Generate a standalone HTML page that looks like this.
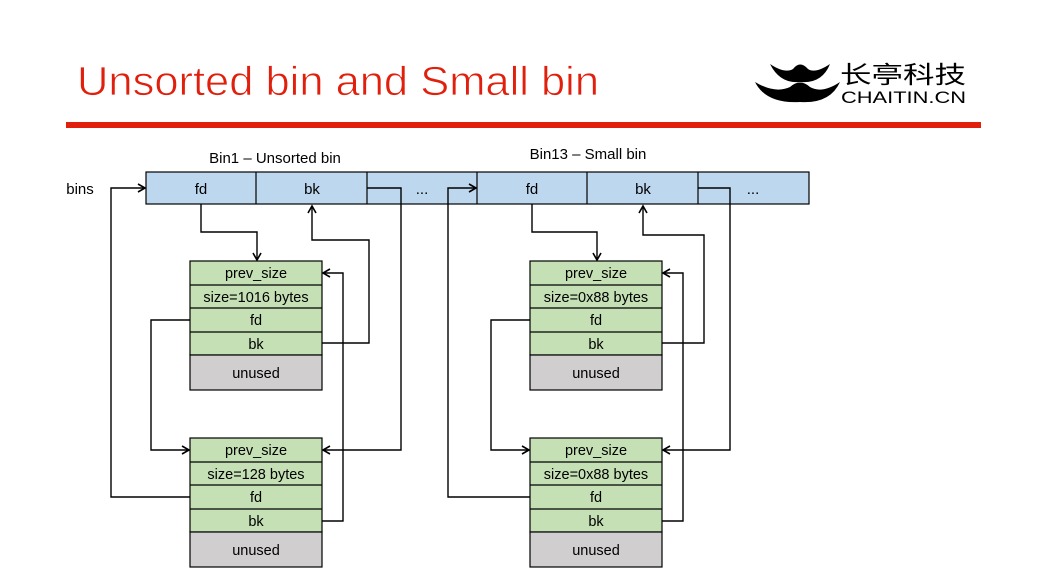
<!DOCTYPE html>
<html><head><meta charset="utf-8"><style>
html,body{margin:0;padding:0;background:#fff;}
svg{display:block;}
text{font-family:"Liberation Sans",sans-serif;}
</style></head><body>
<svg width="1042" height="581" viewBox="0 0 1042 581" xmlns="http://www.w3.org/2000/svg">
<defs>
<marker id="a" markerWidth="10" markerHeight="10" refX="8" refY="5" orient="auto" markerUnits="userSpaceOnUse">
<path d="M1,1 L8,5 L1,9" fill="none" stroke="#000" stroke-width="1.6"/>
</marker>
</defs>
<text x="77" y="95" font-size="41" fill="#e0200c" stroke="#fff" stroke-width="0.8" paint-order="normal" textLength="522" lengthAdjust="spacingAndGlyphs">Unsorted bin and Small bin</text>
<rect x="66" y="122" width="915" height="6" fill="#e0200c"/>
<!-- logo -->
<path d="M770,64 Q785,74 793,69 Q800,60 808,69 Q815,74 830,64 Q822,84 800,82 Q780,84 770,64Z" fill="#000"/>
<path d="M755,82 Q775,94 790,87 Q800,78 810,87 Q822,94 840,82 Q830,104 800,102 Q766,104 755,82Z" fill="#000"/>
<text x="840" y="83" font-size="24" font-family="'Noto Sans CJK SC',sans-serif" fill="#000" textLength="126" lengthAdjust="spacingAndGlyphs">长亭科技</text>
<text x="841" y="103" font-size="17" fill="#000" textLength="125" lengthAdjust="spacingAndGlyphs">CHAITIN.CN</text>

<g font-size="15" fill="#000" text-anchor="middle">
<text x="275" y="163">Bin1 – Unsorted bin</text>
<text x="588" y="159">Bin13 – Small bin</text>
<text x="80" y="194">bins</text>
</g>
<g stroke="#000" stroke-width="1.2">
<rect x="146" y="172" width="663" height="32" fill="#bdd7ee"/>
<line x1="256" y1="172" x2="256" y2="204"/><line x1="367" y1="172" x2="367" y2="204"/>
<line x1="477" y1="172" x2="477" y2="204"/><line x1="587" y1="172" x2="587" y2="204"/>
<line x1="698" y1="172" x2="698" y2="204"/>
</g>
<g font-size="15" text-anchor="middle">
<text x="201" y="194">fd</text><text x="312" y="194">bk</text><text x="422" y="194">...</text>
<text x="532" y="194">fd</text><text x="643" y="194">bk</text><text x="753" y="194">...</text>
</g>

<g stroke="#000" stroke-width="1.2">
<rect x="190" y="261" width="132" height="94" fill="#c5e0b4"/>
<rect x="190" y="355" width="132" height="35" fill="#d0cece"/>
<line x1="190" y1="285" x2="322" y2="285"/><line x1="190" y1="308" x2="322" y2="308"/><line x1="190" y1="332" x2="322" y2="332"/>
<rect x="190" y="438" width="132" height="94" fill="#c5e0b4"/>
<rect x="190" y="532" width="132" height="35" fill="#d0cece"/>
<line x1="190" y1="462" x2="322" y2="462"/><line x1="190" y1="485" x2="322" y2="485"/><line x1="190" y1="509" x2="322" y2="509"/>
<rect x="530" y="261" width="132" height="94" fill="#c5e0b4"/>
<rect x="530" y="355" width="132" height="35" fill="#d0cece"/>
<line x1="530" y1="285" x2="662" y2="285"/><line x1="530" y1="308" x2="662" y2="308"/><line x1="530" y1="332" x2="662" y2="332"/>
<rect x="530" y="438" width="132" height="94" fill="#c5e0b4"/>
<rect x="530" y="532" width="132" height="35" fill="#d0cece"/>
<line x1="530" y1="462" x2="662" y2="462"/><line x1="530" y1="485" x2="662" y2="485"/><line x1="530" y1="509" x2="662" y2="509"/>
</g>
<g font-size="14.5" text-anchor="middle">
<text x="256" y="278">prev_size</text><text x="256" y="302">size=1016 bytes</text><text x="256" y="325">fd</text><text x="256" y="349">bk</text><text x="256" y="378">unused</text>
<text x="256" y="455">prev_size</text><text x="256" y="479">size=128 bytes</text><text x="256" y="502">fd</text><text x="256" y="526">bk</text><text x="256" y="555">unused</text>
<text x="596" y="278">prev_size</text><text x="596" y="302">size=0x88 bytes</text><text x="596" y="325">fd</text><text x="596" y="349">bk</text><text x="596" y="378">unused</text>
<text x="596" y="455">prev_size</text><text x="596" y="479">size=0x88 bytes</text><text x="596" y="502">fd</text><text x="596" y="526">bk</text><text x="596" y="555">unused</text>
</g>

<g fill="none" stroke="#000" stroke-width="1.4" marker-end="url(#a)">
<polyline points="201,204 201,232 257,232 257,260"/>
<polyline points="322,343 369,343 369,240 312,240 312,206"/>
<polyline points="190,320 151,320 151,450 189,450"/>
<polyline points="367,188 401,188 401,450 323,450"/>
<polyline points="190,497 111,497 111,188 145,188"/>
<polyline points="322,521 343,521 343,273 323,273"/>
<polyline points="532,204 532,232 597,232 597,260"/>
<polyline points="662,343 704,343 704,235 643,235 643,206"/>
<polyline points="530,320 491,320 491,450 529,450"/>
<polyline points="698,188 730,188 730,450 663,450"/>
<polyline points="530,497 448,497 448,188 476,188"/>
<polyline points="662,521 683,521 683,273 663,273"/>
</g>
</svg>
</body></html>
